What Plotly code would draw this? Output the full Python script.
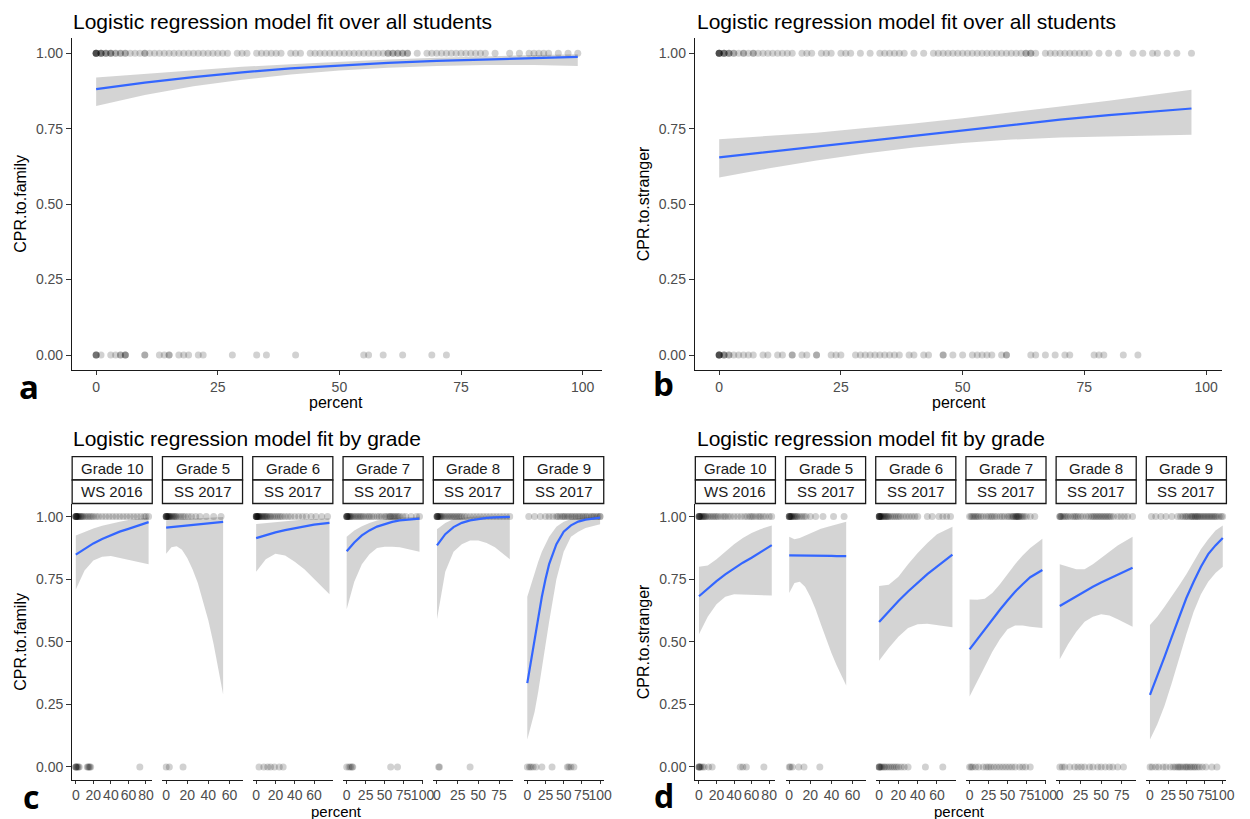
import plotly.graph_objects as go

W, H = 1250, 819
FONT = "Liberation Sans, Arial, sans-serif"

# ---------------- DATA ----------------
tick_y = [0, 0.25, 0.5, 0.75, 1.0]
strip_grades = ["Grade 10", "Grade 5", "Grade 6", "Grade 7", "Grade 8", "Grade 9"]
strip_terms = ["WS 2016", "SS 2017", "SS 2017", "SS 2017", "SS 2017", "SS 2017"]

# panel a: CPR.to.family, all students
a_fx = [0, 10, 20, 30, 40, 50, 60, 70, 80, 90, 99]
a_fit = [0.881, 0.903, 0.921, 0.937, 0.950, 0.960, 0.968, 0.975, 0.980, 0.985, 0.988]
a_hi = [0.920, 0.932, 0.944, 0.955, 0.964, 0.972, 0.979, 0.985, 0.990, 0.994, 0.997]
a_lo = [0.825, 0.862, 0.891, 0.912, 0.930, 0.943, 0.952, 0.958, 0.961, 0.961, 0.958]
a_p1 = [0,0,0,0,0,0,1,1,1,1,2,2,2,3,3,3,4,4,5,5,6,6,7,8,9,10,10,11,12,13,14,15,16,17,18,19,20,21,22,23,24,25,26,27,29,30,31,33,34,35,36,37,38,40,41,42,44,45,46,47,48,49,50,51,52,53,54,55,56,57,58,59,60,60,61,61,62,62,63,63,64,64,66,68,69,70,71,72,73,74,75,76,77,78,79,80,82,85,87,89,90,91,92,93,95,97,99]
a_p0 = [0,0,0,0,1,3,4,5,5,6,6,6,10,10,13,14,15,15,17,18,19,21,22,28,33,35,41,55,56,59,63,69,72]

# panel b: CPR.to.stranger, all students
b_fx = [0, 10, 20, 30, 40, 50, 60, 70, 80, 90, 97]
b_fit = [0.655, 0.673, 0.692, 0.710, 0.728, 0.746, 0.764, 0.780, 0.795, 0.808, 0.817]
b_hi = [0.715, 0.725, 0.737, 0.752, 0.767, 0.785, 0.804, 0.823, 0.843, 0.864, 0.879]
b_lo = [0.588, 0.618, 0.645, 0.668, 0.688, 0.703, 0.714, 0.721, 0.725, 0.728, 0.730]
b_p1 = [0,0,0,0,0,0,1,1,1,1,2,2,2,3,3,4,5,5,6,7,7,8,9,10,11,12,13,14,15,17,18,19,21,22,23,25,26,27,29,31,33,34,35,36,37,38,40,42,44,45,46,47,48,49,50,51,52,53,54,55,56,57,58,59,60,61,62,63,63,64,64,65,67,68,69,70,71,72,73,74,75,76,78,80,82,85,87,89,90,92,94,97]
b_p0 = [0,0,0,0,0,0,1,1,1,2,2,3,4,5,6,7,9,10,12,13,15,15,17,18,20,20,23,24,25,28,29,30,31,32,33,34,35,36,37,39,40,42,43,46,46,48,50,52,53,54,55,56,58,59,59,64,65,67,69,71,72,77,78,79,83,86]

# facet x grids and axis settings (per grade)
g10_fx = [0, 10, 20, 30, 40, 50, 60, 70, 83]
g5_fx = [0, 5, 10, 15, 20, 25, 30, 35, 40, 45, 50, 54]
g6_fx = [0, 10, 20, 30, 40, 50, 60, 76]
g7_fx = [0, 10, 20, 30, 40, 50, 60, 70, 80, 96]
g8_fx = [0, 10, 20, 30, 40, 50, 60, 70, 88]
g9c_fx = [0, 5, 10, 15, 20, 25, 30, 40, 50, 60, 70, 80, 90, 100]
g9d_fx = [0, 10, 20, 30, 40, 50, 60, 70, 80, 90, 100]
g10_ticks = [0, 20, 40, 60, 80]
g5_ticks = [0, 20, 40, 60]
g6_ticks = [0, 20, 40, 60]
g7_ticks = [0, 25, 50, 75, 100]
g8_ticks = [0, 25, 50, 75]
g9_ticks = [0, 25, 50, 75, 100]
g10_range = [-4.15, 87.15]
g5_range = [-3.5, 72.4]
g6_range = [-3.5, 79.5]
g7_range = [-4.8, 100.8]
g8_range = [-4.4, 92.4]
g9_range = [-5, 105]

# panel c: CPR.to.family by grade
c_g10_fit = [0.848, 0.872, 0.893, 0.911, 0.927, 0.940, 0.951, 0.963, 0.978]
c_g10_hi = [0.925, 0.940, 0.953, 0.964, 0.973, 0.980, 0.986, 0.991, 0.996]
c_g10_lo = [0.709, 0.785, 0.825, 0.840, 0.843, 0.838, 0.830, 0.820, 0.810]
c_g10_p1 = [0,0,0,0,0,1,1,2,2,3,4,5,6,7,8,10,12,14,16,18,20,23,26,30,34,38,42,46,50,54,58,62,66,70,74,78,80,83]
c_g10_p0 = [0,0,0,1,2,3,4,13,14,15,16,17,73]

c_g5_fit = [0.956, 0.958, 0.961, 0.963, 0.966, 0.968, 0.971, 0.973, 0.975, 0.977, 0.978, 0.979]
c_g5_hi = [0.985, 0.987, 0.989, 0.990, 0.991, 0.992, 0.993, 0.994, 0.995, 0.996, 0.997, 0.998]
c_g5_lo = [0.852, 0.878, 0.882, 0.868, 0.835, 0.790, 0.735, 0.665, 0.585, 0.490, 0.385, 0.290]
c_g5_p1 = [0,0,0,0,0,1,1,2,2,3,3,4,5,6,7,8,9,10,12,14,16,18,21,24,28,32,38,45,52]
c_g5_p0 = [0, 3, 16]

c_g6_fit = [0.914, 0.926, 0.937, 0.946, 0.954, 0.962, 0.968, 0.975]
c_g6_hi = [0.971, 0.975, 0.979, 0.982, 0.985, 0.988, 0.990, 0.993]
c_g6_lo = [0.780, 0.830, 0.852, 0.845, 0.820, 0.790, 0.750, 0.690]
c_g6_p1 = [0,0,0,0,0,1,1,1,2,2,3,3,4,5,6,7,8,9,10,11,12,14,15,17,19,21,23,25,27,30,33,36,40,44,48,52,57,62,68,74]
c_g6_p0 = [3, 8, 12, 15, 19, 24, 28]

c_g7_fit = [0.862, 0.897, 0.925, 0.945, 0.960, 0.971, 0.979, 0.985, 0.988, 0.992]
c_g7_hi = [0.920, 0.945, 0.962, 0.975, 0.984, 0.990, 0.994, 0.996, 0.998, 0.999]
c_g7_lo = [0.630, 0.740, 0.810, 0.850, 0.875, 0.880, 0.880, 0.878, 0.872, 0.860]
c_g7_p1 = [0,0,0,0,1,1,2,3,4,5,6,8,10,12,14,16,18,20,22,25,28,30,33,36,40,43,46,50,52,55,57,58,60,62,64,66,68,70,74,78,85,92,96]
c_g7_p0 = [0, 3, 5, 7, 8, 58, 67]

c_g8_fit = [0.885, 0.930, 0.958, 0.975, 0.985, 0.991, 0.995, 0.997, 0.999]
c_g8_hi = [0.950, 0.975, 0.990, 0.996, 0.999, 1.0, 1.0, 1.0, 1.0]
c_g8_lo = [0.590, 0.780, 0.860, 0.890, 0.905, 0.905, 0.895, 0.878, 0.830]
c_g8_p1 = [0,0,0,0,1,1,2,3,4,5,6,8,10,12,14,16,18,20,22,24,26,28,30,33,36,40,44,48,52,56,60,64,68,72,76,80,84,88]
c_g8_p0 = [2, 3, 40]

c_g9_fit = [0.335, 0.420, 0.510, 0.600, 0.680, 0.750, 0.810, 0.890, 0.940, 0.965, 0.980, 0.988, 0.993, 0.996]
c_g9_hi = [0.680, 0.730, 0.780, 0.820, 0.860, 0.890, 0.920, 0.960, 0.980, 0.990, 0.995, 0.997, 0.998, 0.999]
c_g9_lo = [0.110, 0.160, 0.220, 0.300, 0.380, 0.480, 0.580, 0.750, 0.860, 0.920, 0.940, 0.955, 0.963, 0.970]
c_g9_p1 = [2,10,18,25,30,35,40,42,45,48,50,52,55,57,60,62,65,67,70,72,75,77,80,82,85,88,90,92,95,97,100,100]
c_g9_p0 = [0, 3, 5, 8, 12, 20, 34, 55, 57, 60, 64]

# panel d: CPR.to.stranger by grade
d_g10_fit = [0.682, 0.713, 0.742, 0.769, 0.794, 0.816, 0.836, 0.857, 0.886]
d_g10_hi = [0.800, 0.805, 0.830, 0.860, 0.890, 0.915, 0.935, 0.950, 0.965]
d_g10_lo = [0.530, 0.600, 0.650, 0.680, 0.690, 0.690, 0.688, 0.686, 0.685]
d_g10_p1 = [0,0,0,0,1,1,2,3,4,5,6,7,8,10,12,14,16,18,20,22,25,28,30,33,36,40,44,48,52,55,58,60,62,65,68,70,73,76,80,83]
d_g10_p0 = [0,0,0,1,2,4,6,11,15,47,50,54,74]

d_g5_fit = [0.845, 0.845, 0.845, 0.844, 0.844, 0.844, 0.843, 0.843, 0.843, 0.842, 0.842, 0.842]
d_g5_hi = [0.920, 0.910, 0.915, 0.925, 0.935, 0.945, 0.952, 0.958, 0.964, 0.970, 0.975, 0.980]
d_g5_lo = [0.695, 0.735, 0.740, 0.720, 0.680, 0.630, 0.570, 0.510, 0.455, 0.405, 0.360, 0.325]
d_g5_p1 = [0,0,0,0,1,1,2,2,3,4,5,6,7,8,10,12,14,16,20,25,32,42,52]
d_g5_p0 = [0, 1, 3, 9, 14, 29]

d_g6_fit = [0.579, 0.622, 0.663, 0.701, 0.737, 0.770, 0.800, 0.848]
d_g6_hi = [0.723, 0.728, 0.760, 0.810, 0.855, 0.895, 0.930, 0.960]
d_g6_lo = [0.424, 0.475, 0.520, 0.555, 0.570, 0.572, 0.566, 0.558]
d_g6_p1 = [0,0,0,0,0,1,1,2,2,3,4,5,6,7,8,9,10,12,14,16,18,20,22,25,28,31,34,37,40,50,55,62,66,70,74]
d_g6_p0 = [0,0,0,1,2,3,5,6,8,10,12,14,16,18,20,23,26,30,48,66]

d_g7_fit = [0.470, 0.510, 0.550, 0.590, 0.628, 0.665, 0.700, 0.730, 0.758, 0.787]
d_g7_hi = [0.669, 0.668, 0.672, 0.695, 0.730, 0.770, 0.810, 0.845, 0.875, 0.912]
d_g7_lo = [0.282, 0.340, 0.400, 0.460, 0.510, 0.550, 0.565, 0.565, 0.560, 0.555]
d_g7_p1 = [0,2,4,6,8,10,12,15,18,22,25,28,30,33,36,40,43,46,50,52,55,57,58,60,61,62,63,64,65,66,68,70,72,75,80,86]
d_g7_p0 = [0,2,4,8,12,18,22,25,28,32,36,40,44,48,52,56,60,66,70,74,80]

d_g8_fit = [0.643, 0.663, 0.683, 0.702, 0.720, 0.737, 0.753, 0.769, 0.796]
d_g8_hi = [0.810, 0.800, 0.790, 0.790, 0.810, 0.835, 0.860, 0.885, 0.920]
d_g8_lo = [0.430, 0.490, 0.540, 0.580, 0.600, 0.610, 0.605, 0.590, 0.560]
d_g8_p1 = [0,0,1,2,4,6,8,10,13,16,18,20,22,25,28,32,35,38,40,42,44,46,48,50,52,54,56,58,60,62,65,70,74,78,82,88]
d_g8_p0 = [0,3,6,12,18,22,26,30,36,40,46,50,55,60,64,70,77]

d_g9_fit = [0.288, 0.360, 0.440, 0.520, 0.600, 0.675, 0.740, 0.800, 0.850, 0.885, 0.915]
d_g9_hi = [0.567, 0.600, 0.640, 0.680, 0.725, 0.770, 0.820, 0.870, 0.910, 0.945, 0.965]
d_g9_lo = [0.110, 0.170, 0.245, 0.335, 0.430, 0.530, 0.620, 0.690, 0.740, 0.775, 0.800]
d_g9_p1 = [2,8,15,22,30,38,42,45,48,50,52,55,57,58,60,62,63,65,66,68,70,72,74,76,78,80,82,84,86,88,90,92,95,98,100]
d_g9_p0 = [0,3,8,12,18,22,28,32,35,38,40,42,45,48,50,52,55,57,60,62,65,68,72,77,85,92]

# ---------------- FIGURE ----------------
POINT_C = "rgba(0,0,0,0.18)"
LINE_C = "#3366FF"
BAND_C = "rgba(153,153,153,0.42)"
TICK_FS = 14

fig = go.Figure()
layout = {}


def px_x(p):
    return p / W


def px_y(p):
    return 1 - p / H


def ax_name(i):
    return ("", "") if i == 1 else (str(i), str(i))


def add_panel(i, fx, fit, hi, lo, p1, p0):
    xs, ys = ax_name(i)
    xa, ya = "x" + xs, "y" + ys
    fig.add_trace(go.Scatter(x=fx + fx[::-1], y=hi + lo[::-1], fill="toself",
                             fillcolor=BAND_C, line=dict(width=0), mode="lines",
                             hoverinfo="skip", showlegend=False, xaxis=xa, yaxis=ya))
    fig.add_trace(go.Scatter(x=p1 + p0, y=[1] * len(p1) + [0] * len(p0), mode="markers",
                             marker=dict(size=7, color=POINT_C, line=dict(width=0)),
                             showlegend=False, xaxis=xa, yaxis=ya))
    fig.add_trace(go.Scatter(x=fx, y=fit, mode="lines", line=dict(color=LINE_C, width=2.2),
                             showlegend=False, xaxis=xa, yaxis=ya))


def set_axes(i, xdom, ydom, xr, xticks, show_y, xticklen=4):
    xs, ys = ax_name(i)
    layout["xaxis" + xs] = dict(
        domain=[px_x(xdom[0]), px_x(xdom[1])], range=xr, anchor="y" + ys,
        showline=True, linecolor="#1a1a1a", linewidth=1.2, ticks="outside", ticklen=xticklen,
        tickcolor="#333333", tickwidth=1, tickvals=xticks, tickangle=0,
        tickfont=dict(family=FONT, size=TICK_FS, color="#4d4d4d"),
        showgrid=False, zeroline=False, fixedrange=True)
    yd = dict(domain=[px_y(ydom[1]), px_y(ydom[0])], range=[-0.05, 1.05], anchor="x" + xs,
              showgrid=False, zeroline=False, fixedrange=True)
    if show_y:
        yd.update(showline=True, linecolor="#1a1a1a", linewidth=1.2, ticks="outside",
                  ticklen=5, tickcolor="#333333", tickwidth=1, tickvals=tick_y,
                  tickformat=".2f", tickfont=dict(family=FONT, size=TICK_FS, color="#4d4d4d"))
    else:
        yd.update(visible=False)
    layout["yaxis" + ys] = yd


# panels a and b
add_panel(1, a_fx, a_fit, a_hi, a_lo, a_p1, a_p0)
set_axes(1, (72.7, 607.2), (38.2, 370.1), [-4.95, 103.95], [0, 25, 50, 75, 100], True)
add_panel(2, b_fx, b_fit, b_hi, b_lo, b_p1, b_p0)
set_axes(2, (701, 1233), (38.2, 370.1), [-5.0, 103.3], [0, 25, 50, 75, 100], True)

facet_fx = [g10_fx, g5_fx, g6_fx, g7_fx, g8_fx]
facet_ticks = [g10_ticks, g5_ticks, g6_ticks, g7_ticks, g8_ticks, g9_ticks]
facet_ranges = [g10_range, g5_range, g6_range, g7_range, g8_range, g9_range]
c_series = [
    (c_g10_fit, c_g10_hi, c_g10_lo, c_g10_p1, c_g10_p0),
    (c_g5_fit, c_g5_hi, c_g5_lo, c_g5_p1, c_g5_p0),
    (c_g6_fit, c_g6_hi, c_g6_lo, c_g6_p1, c_g6_p0),
    (c_g7_fit, c_g7_hi, c_g7_lo, c_g7_p1, c_g7_p0),
    (c_g8_fit, c_g8_hi, c_g8_lo, c_g8_p1, c_g8_p0),
    (c_g9_fit, c_g9_hi, c_g9_lo, c_g9_p1, c_g9_p0),
]
d_series = [
    (d_g10_fit, d_g10_hi, d_g10_lo, d_g10_p1, d_g10_p0),
    (d_g5_fit, d_g5_hi, d_g5_lo, d_g5_p1, d_g5_p0),
    (d_g6_fit, d_g6_hi, d_g6_lo, d_g6_p1, d_g6_p0),
    (d_g7_fit, d_g7_hi, d_g7_lo, d_g7_p1, d_g7_p0),
    (d_g8_fit, d_g8_hi, d_g8_lo, d_g8_p1, d_g8_p0),
    (d_g9_fit, d_g9_hi, d_g9_lo, d_g9_p1, d_g9_p0),
]
c_fx_all = facet_fx + [g9c_fx]
d_fx_all = facet_fx + [g9d_fx]

FW, FSTEP_C, FSTEP_D = 80.8, 91.1, 91.0
FACET_Y = (504.1, 779.5)
STRIP1 = (456.7, 480)
STRIP2 = (480, 503.5)

shapes = []
annotations = []


def add_strip(x0, x1, y0, y1, text):
    shapes.append(dict(type="rect", xref="paper", yref="paper",
                       x0=px_x(x0), x1=px_x(x1), y0=px_y(y1), y1=px_y(y0),
                       line=dict(color="#1a1a1a", width=1.3), fillcolor="white", layer="above"))
    annotations.append(dict(x=px_x((x0 + x1) / 2), y=px_y((y0 + y1) / 2), xref="paper", yref="paper",
                            text=text, showarrow=False, xanchor="center", yanchor="middle",
                            font=dict(family=FONT, size=15, color="#1a1a1a")))


idx = 3
for k in range(6):
    x0 = 72.8 + k * FSTEP_C
    fit, hi, lo, p1, p0 = c_series[k]
    add_panel(idx, c_fx_all[k], fit, hi, lo, p1, p0)
    set_axes(idx, (x0, x0 + FW), FACET_Y, facet_ranges[k], facet_ticks[k], k == 0, xticklen=3)
    add_strip(x0, x0 + FW, STRIP1[0], STRIP1[1], strip_grades[k])
    add_strip(x0, x0 + FW, STRIP2[0], STRIP2[1], strip_terms[k])
    idx += 1
for k in range(6):
    x0 = 701.5 + k * FSTEP_D
    fit, hi, lo, p1, p0 = d_series[k]
    add_panel(idx, d_fx_all[k], fit, hi, lo, p1, p0)
    set_axes(idx, (x0, x0 + FW), FACET_Y, facet_ranges[k], facet_ticks[k], k == 0, xticklen=3)
    add_strip(x0, x0 + FW, STRIP1[0], STRIP1[1], strip_grades[k])
    add_strip(x0, x0 + FW, STRIP2[0], STRIP2[1], strip_terms[k])
    idx += 1


def text_px(x, y, text, size, color="black", xanchor="left", angle=0, family=FONT):
    annotations.append(dict(x=px_x(x), y=px_y(y), xref="paper", yref="paper", text=text,
                            showarrow=False, xanchor=xanchor, yanchor="middle", textangle=angle,
                            font=dict(family=family, size=size, color=color)))


# titles
TITLE_FS = 21
text_px(72, 21.5, "Logistic regression model fit over all students", TITLE_FS)
text_px(701, 21.5, "Logistic regression model fit over all students", TITLE_FS)
text_px(72, 438, "Logistic regression model fit by grade", TITLE_FS)
text_px(701, 438, "Logistic regression model fit by grade", TITLE_FS)
# axis titles
AX_FS = 16
text_px(339, 402, "percent", AX_FS, xanchor="center")
text_px(968, 402, "percent", AX_FS, xanchor="center")
text_px(339, 811.5, "percent", 15, xanchor="center")
text_px(968, 811.5, "percent", 15, xanchor="center")
text_px(20, 204, "CPR.to.family", AX_FS, xanchor="center", angle=-90)
text_px(649, 204, "CPR.to.stranger", AX_FS, xanchor="center", angle=-90)
text_px(20, 642, "CPR.to.family", AX_FS, xanchor="center", angle=-90)
text_px(649, 642, "CPR.to.stranger", AX_FS, xanchor="center", angle=-90)
# panel letters
LETTER_FONT = "Open Sans, Noto Sans, sans-serif"
text_px(29, 386, "<b>a</b>", 33, xanchor="center", family=LETTER_FONT)
text_px(669, 383, "<b>b</b>", 33, xanchor="center", family=LETTER_FONT)
text_px(31, 796, "<b>c</b>", 32, xanchor="center", family=LETTER_FONT)
text_px(670, 795, "<b>d</b>", 32, xanchor="center", family=LETTER_FONT)

layout.update(
    width=W, height=H, margin=dict(l=0, r=0, t=0, b=0),
    paper_bgcolor="white", plot_bgcolor="white", showlegend=False,
    shapes=shapes, annotations=annotations,
    font=dict(family=FONT, color="#1a1a1a"),
)
fig.update_layout(**layout)
fig.write_html("out.html", config={"displayModeBar": False},
               post_script="document.body.style.margin='0px';document.body.style.overflow='hidden';")
